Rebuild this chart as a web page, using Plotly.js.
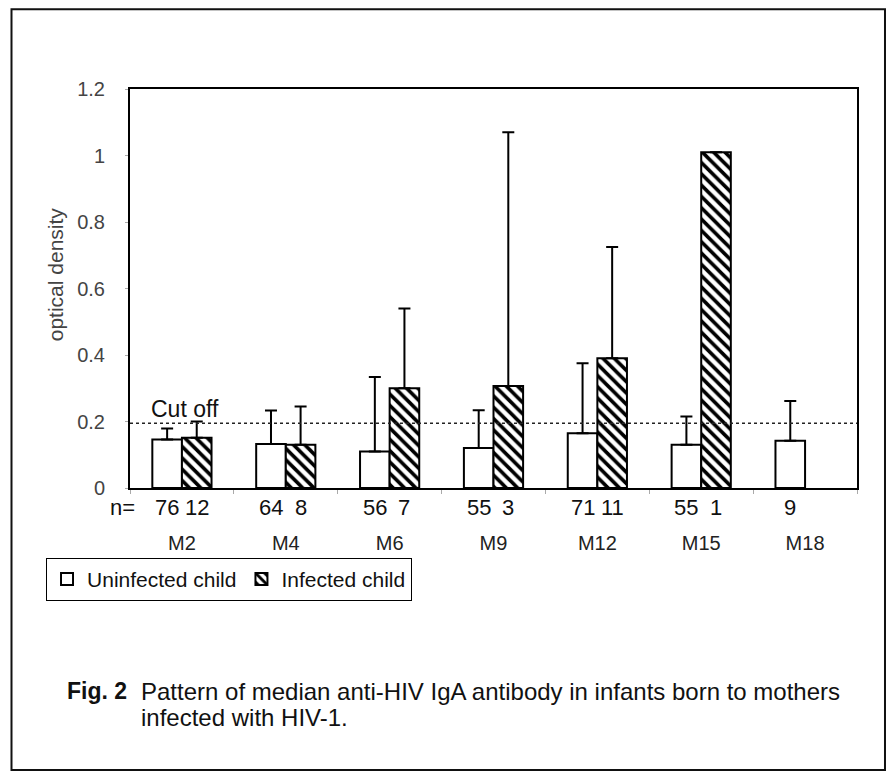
<!DOCTYPE html>
<html>
<head>
<meta charset="utf-8">
<script src="https://cdn.plot.ly/plotly-3.0.1.min.js"></script>
<style>html,body{margin:0;padding:0;background:#fff;}#chart{width:888px;height:774px;}</style>
</head>
<body>
<div id="chart"></div>
<script>
// ---- data ----
const months = ["M2", "M4", "M6", "M9", "M12", "M15", "M18"];
const uninfected = [0.146, 0.132, 0.11, 0.12, 0.165, 0.13, 0.142];
const uninfectedUpper = [0.179, 0.233, 0.334, 0.234, 0.375, 0.215, 0.262];
const infected = [0.151, 0.13, 0.30, 0.307, 0.39, 1.01, null];
const infectedUpper = [0.20, 0.245, 0.54, 1.07, 0.725, null, null];
const nUninfected = ["76", "64", "56", "55", "71", "55", "9"];
const nInfected = ["12", "8", "7", "3", "11", "1", ""];
const cutoff = 0.195;
const captionLines = ["Pattern of median anti-HIV IgA antibody in infants born to mothers", "infected with HIV-1."];

const errs = (vals, ups) => vals.map((v, i) => (v == null || ups[i] == null) ? 0 : +(ups[i] - v).toFixed(3));

const FONT = "Liberation Sans, Arial, sans-serif";
const bargap = 0.43;
const plotW = 888 - 130 - 31;
const barPx = plotW / months.length * (1 - bargap) / 2;

const traceU = {
  type: "bar", name: "Uninfected child", x: months, y: uninfected,
  marker: {color: "#ffffff", line: {color: "#000", width: 2}},
  error_y: {type: "data", symmetric: false, array: errs(uninfected, uninfectedUpper),
            arrayminus: months.map(() => 0), color: "#000", thickness: 2, width: 6}
};
const traceI = {
  type: "bar", name: "Infected child", x: months, y: infected,
  marker: {color: "#ffffff", line: {color: "#000", width: 2},
           pattern: {shape: "\\", fgcolor: "#000", bgcolor: "#fff", size: 8, solidity: 0.45}},
  error_y: {type: "data", symmetric: false, array: errs(infected, infectedUpper),
            arrayminus: months.map(() => 0), color: "#000", thickness: 2, width: 6}
};

const txt = {family: FONT, size: 22, color: "#111"};
const annotations = [];
annotations.push({xref: "paper", yref: "paper", x: -0.03, y: -0.048, xanchor: "left", yanchor: "middle",
  text: "n=", showarrow: false, font: txt});
months.forEach((m, i) => {
  annotations.push({xref: "x", yref: "paper", x: m, y: -0.048, xshift: -barPx / 2, yanchor: "middle",
    text: nUninfected[i], showarrow: false, font: txt});
  if (nInfected[i]) annotations.push({xref: "x", yref: "paper", x: m, y: -0.048, xshift: barPx / 2, yanchor: "middle",
    text: nInfected[i], showarrow: false, font: txt});
});
annotations.push({xref: "paper", yref: "y", x: 0.026, y: cutoff, xanchor: "left", yanchor: "bottom", yshift: -1,
  text: "Cut off", showarrow: false, font: {family: FONT, size: 23, color: "#111"}});
annotations.push({xref: "paper", yref: "paper", x: -0.103, y: 0.536, textangle: -90, xanchor: "center", yanchor: "middle",
  text: "optical density", showarrow: false, font: {family: FONT, size: 21, color: "#444"}});
annotations.push({xref: "paper", yref: "paper", x: -0.09, y: -0.51, xanchor: "left", yanchor: "middle",
  text: "<b>Fig. 2</b>", showarrow: false, font: {family: FONT, size: 23, color: "#111"}});
captionLines.forEach((line, i) => {
  annotations.push({xref: "paper", yref: "paper", x: 0.0125, y: -0.51 - i * 0.066, xanchor: "left", yanchor: "middle",
    text: line, showarrow: false, font: {family: FONT, size: 24, color: "#111"}});
});

const layout = {
  width: 888, height: 774,
  margin: {l: 130, r: 31, t: 89, b: 286},
  paper_bgcolor: "#fff", plot_bgcolor: "#fff",
  barmode: "group", bargap: bargap, bargroupgap: 0,
  showlegend: true,
  legend: {orientation: "h", x: -0.1155, y: -0.175, xanchor: "left", yanchor: "top",
           bordercolor: "#000", borderwidth: 1, bgcolor: "#fff",
           font: {family: FONT, size: 21, color: "#111"}},
  xaxis: {type: "category", showline: true, linecolor: "#000", linewidth: 2, mirror: true,
          ticks: "outside", tickson: "boundaries", ticklen: 4, tickcolor: "#aaa",
          ticklabelstandoff: 36, tickfont: {family: FONT, size: 20, color: "#222"},
          showgrid: false, zeroline: false, fixedrange: true},
  yaxis: {range: [0, 1.2], dtick: 0.2, showline: true, linecolor: "#000", linewidth: 2, mirror: true,
          ticks: "outside", ticklen: 3, tickcolor: "#aaa", ticklabelstandoff: 16,
          tickfont: {family: FONT, size: 20, color: "#444"},
          showgrid: false, zeroline: false},
  shapes: [
    {type: "line", xref: "paper", yref: "y", x0: 0, x1: 1, y0: cutoff, y1: cutoff,
     line: {color: "#222", width: 1.5, dash: "dot"}},
    {type: "rect", xref: "paper", yref: "paper", x0: -0.163, x1: 1.0385, y0: -0.7068, y1: 1.2, 
     line: {color: "#111", width: 2}, fillcolor: "rgba(0,0,0,0)", layer: "below"}
  ],
  annotations: annotations
};

Plotly.newPlot("chart", [traceU, traceI], layout, {displayModeBar: false, staticPlot: true});
</script>
</body>
</html>
